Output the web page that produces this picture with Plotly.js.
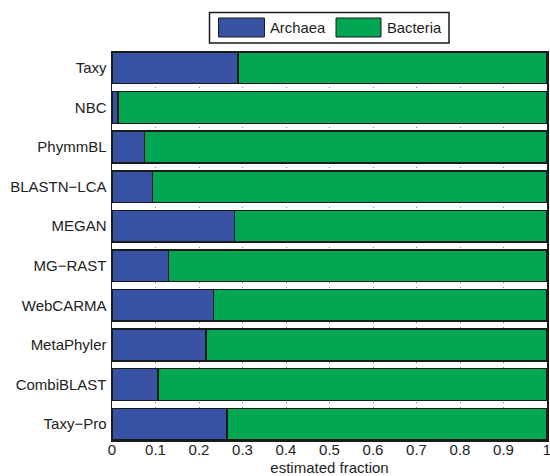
<!DOCTYPE html>
<html>
<head>
<meta charset="utf-8">
<script src="https://cdn.plot.ly/plotly-3.0.1.min.js"></script>
<style>
  html, body { margin: 0; padding: 0; background: #fff; }
  #chart { width: 550px; height: 476px; }
</style>
</head>
<body>
<div id="chart"></div>
<script>
// Classification methods, top to bottom
const methods = ["Taxy", "NBC", "PhymmBL", "BLASTN\u2212LCA", "MEGAN", "MG\u2212RAST",
                 "WebCARMA", "MetaPhyler", "CombiBLAST", "Taxy\u2212Pro"];

// Estimated fractions per domain
const archaea  = [0.290, 0.014, 0.075, 0.093, 0.282, 0.130, 0.233, 0.216, 0.106, 0.264];
const bacteria = [0.710, 0.986, 0.925, 0.907, 0.718, 0.870, 0.767, 0.784, 0.894, 0.736];

const seriesNames = ["Archaea", "Bacteria"];
const xTicks = [0, 0.1, 0.2, 0.3, 0.4, 0.5, 0.6, 0.7, 0.8, 0.9, 1];
const xTickText = ["0", "0.1", "0.2", "0.3", "0.4", "0.5", "0.6", "0.7", "0.8", "0.9", "1"];

const colors = ["#3953A4", "#00A651"];
const edge = "#1a1a1a";
const fontFamily = "'Liberation Sans', Arial, Helvetica, sans-serif";
const textColor = "#222";

// plot area in pixels
const W = 550, H = 476;
const M = { l: 112, r: 3, t: 52, b: 36 };
const plotW = W - M.l - M.r, plotH = H - M.t - M.b;
const px = x => (x - M.l) / plotW;          // pixel x -> paper x
const py = y => (H - M.b - y) / plotH;      // pixel y -> paper y

const traces = [archaea, bacteria].map((vals, i) => ({
  type: "bar",
  orientation: "h",
  name: seriesNames[i],
  y: methods,
  x: vals,
  marker: { color: colors[i], line: { color: edge, width: 1.5 } },
  hoverinfo: "x+y+name"
}));

// legend box drawn as layout shapes
const legendShapes = [
  { type: "rect", xref: "paper", yref: "paper",
    x0: px(209.5), x1: px(449), y0: py(43), y1: py(12.5),
    line: { color: edge, width: 1.5 }, fillcolor: "#fff" },
  { type: "rect", xref: "paper", yref: "paper",
    x0: px(218.5), x1: px(264.5), y0: py(37), y1: py(18),
    line: { color: edge, width: 1 }, fillcolor: colors[0] },
  { type: "rect", xref: "paper", yref: "paper",
    x0: px(336), x1: px(381), y0: py(37), y1: py(18),
    line: { color: edge, width: 1 }, fillcolor: colors[1] }
];
const legendLabels = [
  { text: seriesNames[0], x: px(267.5) },
  { text: seriesNames[1], x: px(384.5) }
].map(d => ({
  xref: "paper", yref: "paper", x: d.x, y: py(27.5),
  xanchor: "left", yanchor: "middle", showarrow: false,
  text: d.text, font: { family: fontFamily, size: 14.8, color: textColor }
}));

const layout = {
  width: W, height: H,
  margin: M,
  paper_bgcolor: "#fff",
  plot_bgcolor: "#fff",
  barmode: "stack",
  bargap: 0.2,
  showlegend: false,
  font: { family: fontFamily, size: 15, color: textColor },
  xaxis: {
    range: [0, 1],
    tickvals: xTicks,
    ticktext: xTickText,
    ticks: "",
    ticklabeloverflow: "allow",
    ticklabelstandoff: -5,
    showgrid: true,
    gridcolor: "#8a8a8a",
    gridwidth: 1,
    griddash: "1px,4px",
    zeroline: false,
    showline: true,
    mirror: true,
    linecolor: edge,
    linewidth: 1.5,
    tickfont: { size: 15 },
    title: { text: "estimated fraction", font: { size: 15 }, standoff: 8 }
  },
  yaxis: {
    type: "category",
    categoryorder: "array",
    categoryarray: methods,
    range: [methods.length - 0.6, -0.4],
    ticks: "",
    showgrid: false,
    zeroline: false,
    showline: true,
    mirror: true,
    linecolor: edge,
    linewidth: 1.5,
    ticklabelstandoff: 1,
    tickfont: { size: 15 }
  },
  shapes: legendShapes,
  annotations: legendLabels
};

Plotly.newPlot("chart", traces, layout, { displayModeBar: false, staticPlot: true });
</script>
</body>
</html>
